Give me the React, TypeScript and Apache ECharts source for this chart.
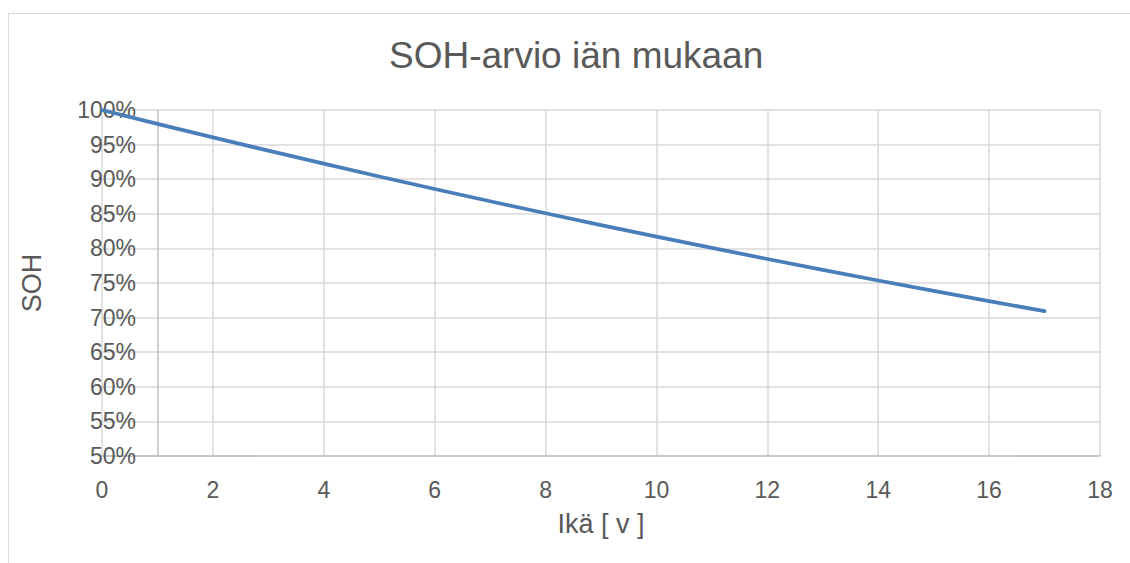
import React, { useEffect, useRef } from "react";
import * as echarts from "echarts";

const titleText = "SOH-arvio iän mukaan";
const xName = "Ikä [ v ]";
const yName = "SOH";
const ages = [0, 1, 2, 3, 4, 5, 6, 7, 8, 9, 10, 11, 12, 13, 14, 15, 16, 17];
const sohValues = [100, 98, 96.04, 94.12, 92.24, 90.39, 88.58, 86.81, 85.08, 83.37, 81.71, 80.07, 78.47, 76.9, 75.36, 73.86, 72.38, 70.93];
const yAxisCrossAt = 1;

export default function App() {
  const ref = useRef<HTMLDivElement>(null);
  useEffect(() => {
    if (!ref.current) return;
    const chart = echarts.init(ref.current, null, { renderer: "svg" });
    const font = "Liberation Sans, Arial, sans-serif";
    chart.setOption({
      animation: false,
      backgroundColor: "#ffffff",
      title: {
        text: titleText,
        left: 389,
        top: 37,
        padding: 0,
        textStyle: { fontFamily: font, fontSize: 37, fontWeight: "normal", color: "#595959" },
      },
      graphic: [
        {
          type: "rect",
          shape: { x: 8.5, y: 13.5, width: 1300, height: 700 },
          style: { fill: "none", stroke: "#d9d9d9", lineWidth: 1 },
          silent: true,
        },
      ],
      grid: { left: 102, right: 30, top: 110, bottom: 107, containLabel: false },
      xAxis: {
        type: "value",
        min: 0,
        max: 18,
        interval: 2,
        name: xName,
        nameLocation: "middle",
        nameGap: 54,
        nameTextStyle: { fontFamily: font, fontSize: 27, color: "#595959" },
        axisLine: { show: true, lineStyle: { color: "#bfbfbf", width: 1.5 } },
        axisTick: { show: false },
        axisLabel: { margin: 22, fontFamily: font, fontSize: 23, color: "#595959" },
        splitLine: { show: true, lineStyle: { color: "#d9d9d9", width: 1.5 } },
      },
      yAxis: {
        type: "value",
        min: 50,
        max: 100,
        interval: 5,
        name: yName,
        nameLocation: "middle",
        nameRotate: 90,
        nameGap: 57,
        nameTextStyle: { fontFamily: font, fontSize: 27, color: "#595959" },
        axisLine: { show: false },
        axisTick: { show: false },
        axisLabel: {
          margin: -34,
          fontFamily: font,
          fontSize: 23,
          color: "#595959",
          formatter: (v: number) => `${v}%`,
        },
        splitLine: { show: true, lineStyle: { color: "#d9d9d9", width: 1.5 } },
      },
      series: [
        {
          type: "line",
          data: ages.map((a, i) => [a, sohValues[i]]),
          showSymbol: false,
          symbol: "none",
          lineStyle: { color: "#4a7ebb", width: 3.75, cap: "round", join: "round" },
          z: 5,
          markLine: {
            silent: true,
            symbol: ["none", "none"],
            label: { show: false },
            lineStyle: { color: "#bfbfbf", width: 1.5, type: "solid" },
            data: [{ xAxis: yAxisCrossAt }],
            z: 1,
          },
        },
      ],
    });
    return () => chart.dispose();
  }, []);
  return (
    <div
      ref={ref}
      style={{ position: "absolute", left: 0, top: 0, width: 1130, height: 563 }}
    />
  );
}
